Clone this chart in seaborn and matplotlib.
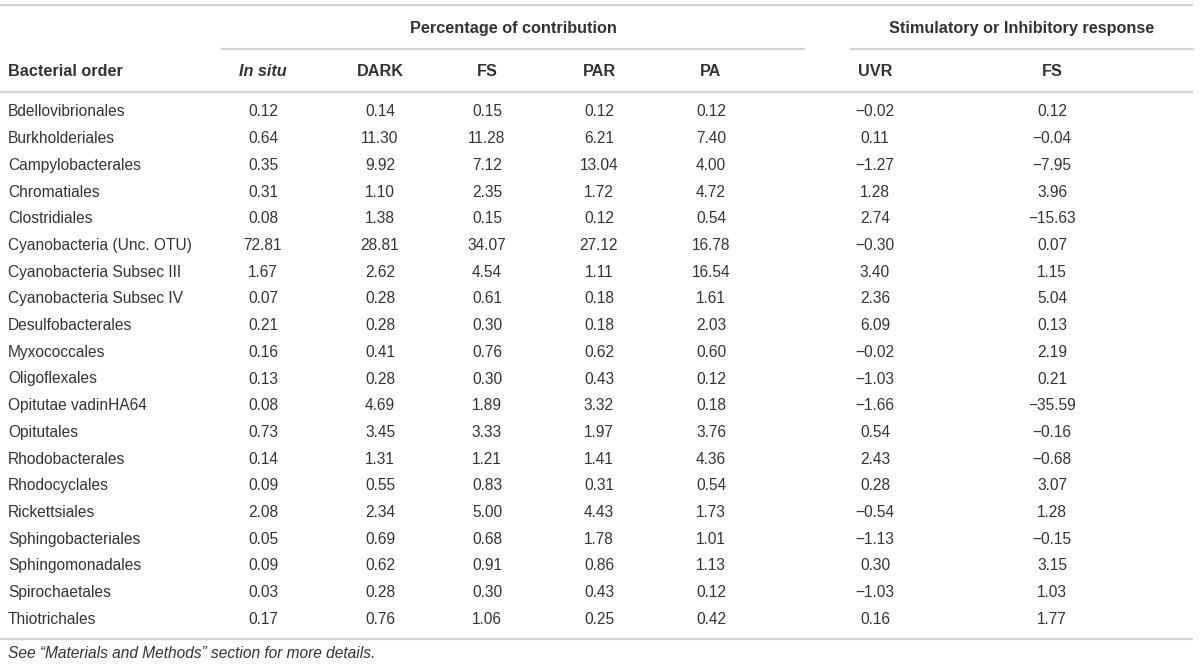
import numpy as np
import pandas as pd
import seaborn as sns
import matplotlib.pyplot as plt

# Table data
orders = ["Bdellovibrionales", "Burkholderiales", "Campylobacterales", "Chromatiales",
          "Clostridiales", "Cyanobacteria (Unc. OTU)", "Cyanobacteria Subsec III",
          "Cyanobacteria Subsec IV", "Desulfobacterales", "Myxococcales", "Oligoflexales",
          "Opitutae vadinHA64", "Opitutales", "Rhodobacterales", "Rhodocyclales",
          "Rickettsiales", "Sphingobacteriales", "Sphingomonadales", "Spirochaetales",
          "Thiotrichales"]
in_situ = [0.12, 0.64, 0.35, 0.31, 0.08, 72.81, 1.67, 0.07, 0.21, 0.16,
           0.13, 0.08, 0.73, 0.14, 0.09, 2.08, 0.05, 0.09, 0.03, 0.17]
dark = [0.14, 11.30, 9.92, 1.10, 1.38, 28.81, 2.62, 0.28, 0.28, 0.41,
        0.28, 4.69, 3.45, 1.31, 0.55, 2.34, 0.69, 0.62, 0.28, 0.76]
fs = [0.15, 11.28, 7.12, 2.35, 0.15, 34.07, 4.54, 0.61, 0.30, 0.76,
      0.30, 1.89, 3.33, 1.21, 0.83, 5.00, 0.68, 0.91, 0.30, 1.06]
par = [0.12, 6.21, 13.04, 1.72, 0.12, 27.12, 1.11, 0.18, 0.18, 0.62,
       0.43, 3.32, 1.97, 1.41, 0.31, 4.43, 1.78, 0.86, 0.43, 0.25]
pa = [0.12, 7.40, 4.00, 4.72, 0.54, 16.78, 16.54, 1.61, 2.03, 0.60,
      0.12, 0.18, 3.76, 4.36, 0.54, 1.73, 1.01, 1.13, 0.12, 0.42]
uvr_resp = [-0.02, 0.11, -1.27, 1.28, 2.74, -0.30, 3.40, 2.36, 6.09, -0.02,
            -1.03, -1.66, 0.54, 2.43, 0.28, -0.54, -1.13, 0.30, -1.03, 0.16]
fs_resp = [0.12, -0.04, -7.95, 3.96, -15.63, 0.07, 1.15, 5.04, 0.13, 2.19,
           0.21, -35.59, -0.16, -0.68, 3.07, 1.28, -0.15, 3.15, 1.03, 1.77]

columns = ["In situ", "DARK", "FS", "PAR", "PA", "UVR", "FS "]
df = pd.DataFrame({"In situ": in_situ, "DARK": dark, "FS": fs, "PAR": par,
                   "PA": pa, "UVR": uvr_resp, "FS ": fs_resp}, index=orders)

# Layout (pixel-like coordinates)
col_x = [263, 380, 487, 599, 711, 875, 1052]
row_y0, row_step = 112, 26.7
text_color = "#333333"
line_color = "#d0d0d0"
body_size = 11.2
head_size = 11.7

sns.set_theme(style="white")
plt.rcParams['font.family'] = ["Liberation Sans", 'DejaVu Sans']

fig = plt.figure(figsize=(12, 6.67), dpi=100)
ax = fig.add_axes([0, 0, 1, 1])
ax.set_xlim(0, 1200)
ax.set_ylim(667, 0)
ax.axis("off")


def fmt(v):
    s = f"{abs(v):.2f}"
    return ("\u2212" + s) if v < 0 else s


# Rules
for y in [5, 92, 639]:
    ax.plot([0, 1193], [y, y], color=line_color, lw=1.6, solid_capstyle="butt")
ax.plot([222, 804], [49, 49], color=line_color, lw=1.6)
ax.plot([851, 1193], [49, 49], color=line_color, lw=1.6)

# Group headers
ax.text((222 + 804) / 2, 28, "Percentage of contribution", ha="center", va="center",
        fontsize=head_size, fontweight="bold", color=text_color)
ax.text((851 + 1193) / 2, 28, "Stimulatory or Inhibitory response", ha="center", va="center",
        fontsize=head_size, fontweight="bold", color=text_color)

# Column headers
ax.text(8, 71, "Bacterial order", ha="left", va="center", fontsize=head_size,
        fontweight="bold", color=text_color)
for x, name in zip(col_x, columns):
    style = "italic" if name == "In situ" else "normal"
    ax.text(x, 71, name.strip(), ha="center", va="center", fontsize=head_size,
            fontweight="bold", fontstyle=style, color=text_color)

# Body
for i, order in enumerate(df.index):
    y = row_y0 + i * row_step
    ax.text(8, y, order, ha="left", va="center", fontsize=body_size, color=text_color)
    for x, col in zip(col_x, df.columns):
        ax.text(x, y, fmt(df.loc[order, col]), ha="center", va="center",
                fontsize=body_size, color=text_color)

# Footnote
ax.text(8, 654, "See \u201cMaterials and Methods\u201d section for more details.",
        ha="left", va="center", fontsize=body_size, fontstyle="italic", color=text_color)

fig.savefig("out.png", dpi=100, facecolor="white")
plt.close(fig)
